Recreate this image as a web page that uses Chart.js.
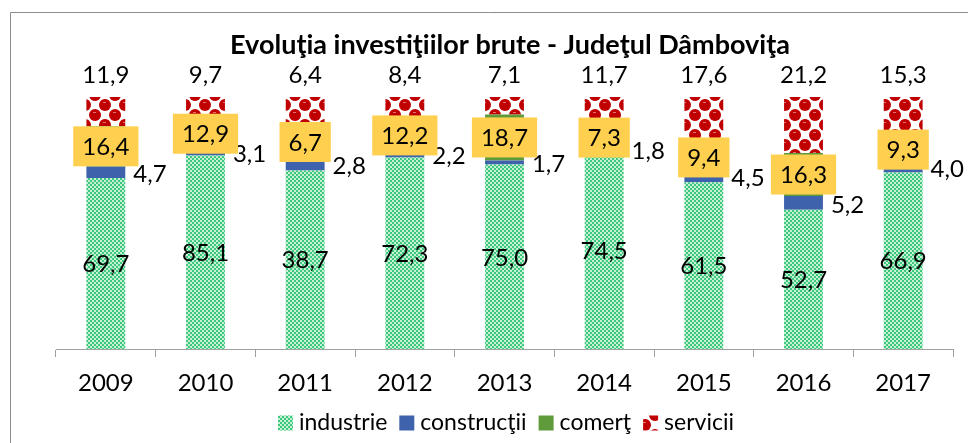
<!DOCTYPE html>
<html>
<head>
<meta charset="utf-8">
<script src="https://cdn.jsdelivr.net/npm/chart.js@4.4.1/dist/chart.umd.min.js"></script>
<style>
html,body{margin:0;padding:0;background:#fff;}
#wrap{position:relative;width:968px;height:443px;}
</style>
</head>
<body>
<div id="wrap"><canvas id="c" width="968" height="443"></canvas></div>
<script>
const years = ['2009','2010','2011','2012','2013','2014','2015','2016','2017'];
const industrie = [69.7, 85.1, 38.7, 72.3, 75.0, 74.5, 61.5, 52.7, 66.9];
const constructii = [4.7, 3.1, 2.8, 2.2, 1.7, 1.8, 4.5, 5.2, 4.0];
const comert = [16.4, 12.9, 6.7, 12.2, 18.7, 7.3, 9.4, 16.3, 9.3];
const servicii = [11.9, 9.7, 6.4, 8.4, 7.1, 11.7, 17.6, 21.2, 15.3];
const seriesNames = ['industrie', 'construcţii', 'comerţ', 'servicii'];
const titleText = 'Evoluţia investiţiilor brute - Judeţul Dâmboviţa';

const FONT = 'Lato';
const totals = years.map((_, i) => industrie[i] + constructii[i] + comert[i] + servicii[i]);
const pct = arr => arr.map((v, i) => v / totals[i] * 100);
const fmt = v => v.toFixed(1).replace('.', ',');

function makeIndPattern() {
  const c = document.createElement('canvas'); c.width = 4; c.height = 4;
  const x = c.getContext('2d');
  x.fillStyle = '#3ec87c'; x.fillRect(0, 0, 4, 4);
  x.fillStyle = '#c4f0d6'; x.fillRect(0, 0, 2, 2); x.fillRect(2, 2, 2, 2);
  return x.createPattern(c, 'repeat');
}
function makeServPattern() {
  const c = document.createElement('canvas'); c.width = 20; c.height = 20;
  const x = c.getContext('2d');
  x.fillStyle = '#ffffff'; x.fillRect(0, 0, 20, 20);
  x.fillStyle = '#c00000';
  [[5,5],[15,15],[25,5],[-5,15],[5,25],[15,-5],[25,25],[-5,-5]].forEach(p => {
    x.beginPath(); x.arc(p[0], p[1], 6.0, 0, Math.PI * 2); x.fill();
  });
  x.fillStyle = '#e87070';
  x.fillRect(3, 2, 3, 1); x.fillRect(13, 12, 3, 1);
  return x.createPattern(c, 'repeat');
}
const indPat = makeIndPattern();
const servPat = makeServPattern();
const colors = [indPat, '#3f62ac', '#5f9b3b', servPat];

const labelPlugin = {
  id: 'labels',
  beforeDraw(chart) {
    const ctx = chart.ctx;
    ctx.save();
    ctx.strokeStyle = '#8c8c8c'; ctx.lineWidth = 1;
    ctx.beginPath();
    ctx.moveTo(10.5, 443); ctx.lineTo(10.5, 12.5); ctx.lineTo(968, 12.5);
    ctx.stroke();
    ctx.restore();
  },
  afterDatasetsDraw(chart) {
    const ctx = chart.ctx;
    ctx.save();
    ctx.font = '24px ' + FONT;
    ctx.fillStyle = '#000';
    ctx.textBaseline = 'middle';
    const m0 = chart.getDatasetMeta(0).data;
    const m1 = chart.getDatasetMeta(1).data;
    const m2 = chart.getDatasetMeta(2).data;
    const m3 = chart.getDatasetMeta(3).data;
    years.forEach((_, i) => {
      let el = m0[i];
      ctx.textAlign = 'center';
      ctx.fillText(fmt(industrie[i]), el.x, (el.y + el.base) / 2 + 1);
      el = m1[i];
      ctx.textAlign = 'left';
      ctx.fillText(fmt(constructii[i]), el.x + el.width / 2 + 8, (el.y + el.base) / 2 + 2);
    });
    years.forEach((_, i) => {
      const el = m2[i];
      const t = fmt(comert[i]);
      const w = ctx.measureText(t).width + 18;
      const cy = (el.y + el.base) / 2;
      ctx.fillStyle = '#ffd04f';
      ctx.fillRect(el.x - w / 2, cy - 20, w, 40);
      ctx.fillStyle = '#000';
      ctx.textAlign = 'center';
      ctx.fillText(t, el.x, cy + 1);
      const e3 = m3[i];
      ctx.fillText(fmt(servicii[i]), e3.x, e3.y - 22);
    });
    ctx.restore();
  },
  afterDraw(chart) {
    const ctx = chart.ctx;
    ctx.save();
    ctx.font = 'bold 27px ' + FONT;
    ctx.fillStyle = '#000';
    ctx.textAlign = 'center';
    ctx.textBaseline = 'middle';
    ctx.fillText(titleText, 510, 45);
    ctx.font = '23px ' + FONT;
    const box = 15, gapIcon = 6, gapItem = 12;
    let total = 0;
    const widths = seriesNames.map(n => ctx.measureText(n).width);
    widths.forEach(w => total += box + gapIcon + w);
    total += gapItem * (seriesNames.length - 1);
    let x = 506 - total / 2;
    const cy = 423;
    seriesNames.forEach((n, k) => {
      ctx.fillStyle = colors[k];
      ctx.fillRect(x, cy - box / 2, box, box);
      x += box + gapIcon;
      ctx.fillStyle = '#000';
      ctx.textAlign = 'left';
      ctx.fillText(n, x, cy);
      x += widths[k] + gapItem;
    });
    ctx.restore();
  }
};

new Chart(document.getElementById('c'), {
  type: 'bar',
  data: {
    labels: years,
    datasets: [
      { label: seriesNames[0], data: pct(industrie), backgroundColor: colors[0] },
      { label: seriesNames[1], data: pct(constructii), backgroundColor: colors[1] },
      { label: seriesNames[2], data: pct(comert), backgroundColor: colors[2] },
      { label: seriesNames[3], data: pct(servicii), backgroundColor: colors[3] }
    ]
  },
  options: {
    responsive: false,
    animation: false,
    devicePixelRatio: 1,
    layout: { padding: { left: 56, right: 15, top: 97, bottom: 0 } },
    datasets: { bar: { barPercentage: 0.39, categoryPercentage: 1, borderWidth: 0 } },
    plugins: { legend: { display: false }, title: { display: false }, tooltip: { enabled: false } },
    scales: {
      x: {
        stacked: true,
        afterFit(s) { s.height = 94; },
        grid: { offset: true, drawOnChartArea: false, drawTicks: true, tickLength: 8, color: '#a0a0a0', lineWidth: 1 },
        border: { display: true, color: '#a0a0a0', width: 1 },
        ticks: { color: '#000', font: { family: FONT, size: 24 }, padding: 12, maxRotation: 0 }
      },
      y: { stacked: true, display: false, min: 0, max: 100 }
    }
  },
  plugins: [labelPlugin]
});
</script>
</body>
</html>
